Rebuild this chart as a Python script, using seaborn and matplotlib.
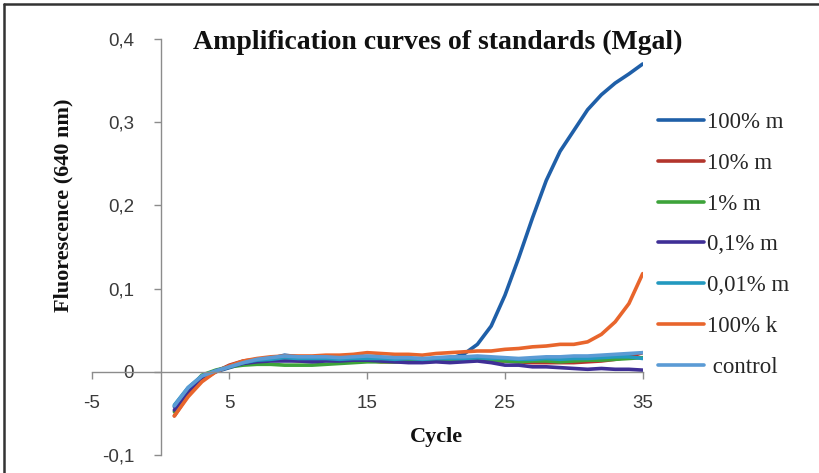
import matplotlib
matplotlib.use("Agg")
import matplotlib.pyplot as plt
import matplotlib.lines as mlines
from matplotlib.ticker import FixedLocator, FixedFormatter
import seaborn as sns
import pandas as pd

cycles = list(range(1, 36))

m100 = [-0.042, -0.020, -0.006, 0.000, 0.005, 0.010, 0.014, 0.016, 0.020, 0.018,
        0.017, 0.016, 0.016, 0.017, 0.016, 0.016, 0.015, 0.016, 0.015, 0.016,
        0.016, 0.021, 0.033, 0.055, 0.092, 0.137, 0.185, 0.230, 0.265, 0.290,
        0.315, 0.333, 0.347, 0.358, 0.370]
m10 = [-0.053, -0.028, -0.010, 0.000, 0.008, 0.013, 0.015, 0.016, 0.015, 0.013,
       0.013, 0.014, 0.014, 0.015, 0.014, 0.012, 0.012, 0.013, 0.013, 0.014,
       0.014, 0.014, 0.014, 0.013, 0.013, 0.012, 0.011, 0.011, 0.011, 0.011,
       0.012, 0.013, 0.015, 0.018, 0.023]
m1 = [-0.048, -0.022, -0.004, 0.002, 0.006, 0.008, 0.009, 0.009, 0.008, 0.008,
      0.008, 0.009, 0.010, 0.011, 0.012, 0.012, 0.012, 0.013, 0.013, 0.013,
      0.013, 0.013, 0.014, 0.014, 0.013, 0.012, 0.013, 0.013, 0.012, 0.013,
      0.014, 0.014, 0.015, 0.016, 0.017]
m01 = [-0.046, -0.023, -0.007, 0.001, 0.006, 0.010, 0.012, 0.013, 0.013, 0.013,
       0.012, 0.013, 0.013, 0.014, 0.014, 0.013, 0.012, 0.011, 0.011, 0.012,
       0.011, 0.012, 0.013, 0.011, 0.008, 0.008, 0.006, 0.006, 0.005, 0.004,
       0.003, 0.004, 0.003, 0.003, 0.002]
m001 = [-0.040, -0.019, -0.005, 0.001, 0.006, 0.011, 0.014, 0.015, 0.017, 0.016,
        0.016, 0.016, 0.015, 0.016, 0.016, 0.016, 0.015, 0.016, 0.015, 0.016,
        0.016, 0.016, 0.017, 0.016, 0.016, 0.015, 0.015, 0.016, 0.015, 0.016,
        0.016, 0.017, 0.018, 0.018, 0.016]
k100 = [-0.053, -0.030, -0.012, 0.000, 0.007, 0.013, 0.016, 0.018, 0.019, 0.019,
        0.019, 0.020, 0.020, 0.021, 0.023, 0.022, 0.021, 0.021, 0.020, 0.022,
        0.023, 0.024, 0.025, 0.025, 0.027, 0.028, 0.030, 0.031, 0.033, 0.033,
        0.036, 0.045, 0.060, 0.082, 0.118]
control = [-0.041, -0.019, -0.005, 0.001, 0.006, 0.011, 0.015, 0.017, 0.019, 0.018,
           0.018, 0.018, 0.017, 0.018, 0.019, 0.018, 0.017, 0.017, 0.016, 0.017,
           0.018, 0.018, 0.019, 0.018, 0.017, 0.016, 0.017, 0.018, 0.018, 0.019,
           0.019, 0.020, 0.021, 0.022, 0.023]

series_names = ["100% m", "10% m", "1% m", "0,1% m", "0,01% m", "100% k", " control"]
series_values = [m100, m10, m1, m01, m001, k100, control]
colors = ["#1F5FA8", "#B3352C", "#3DA33A", "#3F2F96", "#2399BF", "#E8652C", "#5B9BD5"]

xticks = [-5, 5, 15, 25, 35]
xtick_labels = ["-5", "5", "15", "25", "35"]
yticks = [-0.1, 0, 0.1, 0.2, 0.3, 0.4]
ytick_labels = ["-0,1", "0", "0,1", "0,2", "0,3", "0,4"]

title = "Amplification curves of standards (Mgal)"
xlabel = "Cycle"
ylabel = "Fluorescence (640 nm)"

rows = []
for name, vals in zip(series_names, series_values):
    for c, v in zip(cycles, vals):
        rows.append({"Cycle": c, "Fluorescence": v, "Series": name})
df = pd.DataFrame(rows)

sns.set_style("white")
plt.rcParams["font.family"] = ["Liberation Sans", "DejaVu Sans"]

fig = plt.figure(figsize=(8.19, 4.73), dpi=100)
fig.patch.set_edgecolor("none")
ax = fig.add_axes([91.7 / 819, 1 - 455 / 473, (642.7 - 91.7) / 819, (455 - 39) / 473])

sns.lineplot(data=df, x="Cycle", y="Fluorescence", hue="Series",
             hue_order=series_names, palette=colors, linewidth=2.6,
             ax=ax, legend=True)

ax.set_xlim(-5, 35)
ax.set_ylim(-0.1, 0.4)
ax.set_xlabel("")
ax.set_ylabel("")

for s in ["top", "right"]:
    ax.spines[s].set_visible(False)
ax.spines["left"].set_position(("data", 0))
ax.spines["bottom"].set_position(("data", 0))
for s in ["left", "bottom"]:
    ax.spines[s].set_color("#8C8C8C")
    ax.spines[s].set_linewidth(1.0)

ax.xaxis.set_major_locator(FixedLocator(xticks))
ax.xaxis.set_major_formatter(FixedFormatter(xtick_labels))
ax.yaxis.set_major_locator(FixedLocator(yticks))
ax.yaxis.set_major_formatter(FixedFormatter(ytick_labels))
ax.tick_params(axis="x", direction="out", length=5, width=1, color="#8C8C8C",
               pad=12, labelsize=13.5, labelcolor="#3A3A3A", bottom=True)
ax.tick_params(axis="y", direction="out", length=5, width=1, color="#8C8C8C",
               pad=14, labelsize=13.5, labelcolor="#3A3A3A", left=True)

serif = ["Liberation Serif", "DejaVu Serif"]
fig.text(438 / 819, 1 - 49 / 473, title, ha="center", va="baseline",
         fontsize=20, fontweight="bold", family=serif, color="#111111")
fig.text(436 / 819, 1 - 437 / 473, xlabel, ha="center", va="center",
         fontsize=16, fontweight="bold", family=serif, color="#111111")
fig.text(63 / 819, 1 - 205 / 473, ylabel, ha="center", va="center", rotation=90,
         fontsize=16, fontweight="bold", family=serif, color="#111111")

handles, labels = ax.get_legend_handles_labels()
ax.legend(handles, labels, loc="upper left",
          bbox_to_anchor=(658 / 819, 1 - 112 / 473), bbox_transform=fig.transFigure,
          frameon=False, prop={"family": serif, "size": 16.5},
          handlelength=2.0, handletextpad=0.15, labelspacing=0.86,
          borderpad=0, borderaxespad=0)

# figure frame (top and left edges)
fig.add_artist(mlines.Line2D([4 / 819, 4 / 819], [0, 1 - 4 / 473],
                             transform=fig.transFigure, color="#333333", lw=1.8))
fig.add_artist(mlines.Line2D([4 / 819, 1], [1 - 4 / 473, 1 - 4 / 473],
                             transform=fig.transFigure, color="#333333", lw=1.8))

fig.savefig("out.png", dpi=100)
